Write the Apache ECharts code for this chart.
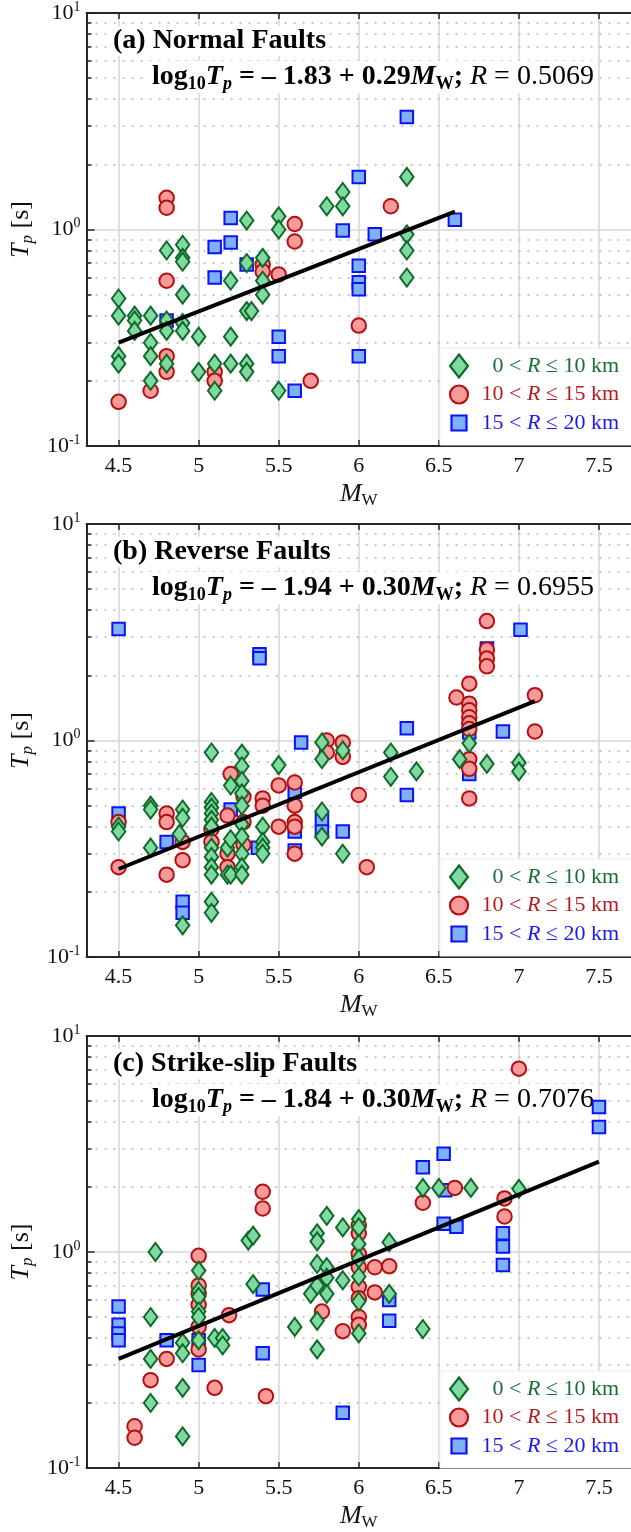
<!DOCTYPE html>
<html><head><meta charset="utf-8">
<script src="https://cdn.jsdelivr.net/npm/echarts@6/dist/echarts.min.js"></script>
<style>html,body{margin:0;padding:0;background:#fff}#c{width:631px;height:1532px}</style>
</head><body><div id="c"></div>
<script>
// ---------- data (Mw, Tp [s]) ----------
const xTicks = [4.5, 5, 5.5, 6, 6.5, 7, 7.5];
const yTicks = [0.1, 1, 10];
const yMinor = [0.2,0.3,0.4,0.5,0.6,0.7,0.8,0.9,2,3,4,5,6,7,8,9];
const titles = ['(a) Normal Faults', '(b) Reverse Faults', '(c) Strike-slip Faults'];
const eqIntercept = ['1.83', '1.94', '1.84'];
const eqSlope = ['0.29', '0.30', '0.30'];
const eqR = ['0.5069', '0.6955', '0.7076'];
const legendLow = ['0', '10', '15'];
const legendHigh = ['10', '15', '20'];

const normalNear = [[4.5,0.48],[4.5,0.40],[4.5,0.26],[4.5,0.24],[4.6,0.40],[4.6,0.38],[4.6,0.34],
 [4.7,0.40],[4.7,0.30],[4.7,0.26],[4.7,0.20],[4.8,0.80],[4.8,0.38],[4.8,0.34],[4.8,0.24],
 [4.9,0.85],[4.9,0.74],[4.9,0.71],[4.9,0.50],[4.9,0.37],[4.9,0.34],[5.0,0.32],[5.0,0.22],
 [5.1,0.24],[5.1,0.18],[5.2,0.58],[5.2,0.32],[5.2,0.24],[5.3,1.10],[5.3,0.70],[5.3,0.42],
 [5.33,0.42],[5.3,0.24],[5.3,0.22],[5.4,0.74],[5.4,0.58],[5.4,0.50],[5.5,1.15],[5.5,1.0],
 [5.5,0.18],[5.8,1.28],[5.9,1.49],[5.9,1.28],[6.3,1.75],[6.3,0.95],[6.3,0.80],[6.3,0.60]];
const normalMid = [[4.5,0.16],[4.7,0.18],[4.8,1.40],[4.8,1.26],[4.8,0.58],[4.8,0.26],[4.8,0.22],
 [5.1,0.22],[5.1,0.20],[5.4,0.69],[5.4,0.64],[5.5,0.62],[5.6,1.06],[5.6,0.88],[5.7,0.20],
 [6.0,0.36],[6.2,1.28]];
const normalFar = [[4.8,0.38],[5.1,0.83],[5.1,0.60],[5.2,1.13],[5.2,0.87],[5.3,0.69],[5.5,0.32],
 [5.5,0.26],[5.6,0.18],[5.9,0.99],[6.0,1.75],[6.0,0.68],[6.0,0.57],[6.0,0.53],[6.0,0.26],
 [6.1,0.95],[6.3,3.31],[6.6,1.11]];
const normalFit = [[4.5,0.30],[6.6,1.21]];

const reverseNear = [[4.5,0.40],[4.5,0.38],[4.7,0.50],[4.7,0.48],[4.7,0.32],[4.9,0.48],[4.9,0.44],
 [4.88,0.37],[4.9,0.14],[5.08,0.88],[5.08,0.52],[5.08,0.49],[5.08,0.46],[5.08,0.43],[5.08,0.40],
 [5.08,0.32],[5.08,0.29],[5.08,0.26],[5.08,0.24],[5.08,0.18],[5.08,0.16],[5.18,0.32],[5.18,0.24],
 [5.2,0.24],[5.2,0.35],[5.2,0.62],[5.27,0.87],[5.27,0.76],[5.27,0.65],[5.27,0.57],[5.27,0.50],
 [5.27,0.41],[5.27,0.36],[5.27,0.30],[5.27,0.26],[5.27,0.24],[5.4,0.40],[5.4,0.34],[5.4,0.32],
 [5.4,0.30],[5.5,0.77],[5.77,0.98],[5.77,0.82],[5.77,0.47],[5.77,0.36],[5.9,0.90],[5.9,0.30],
 [6.2,0.88],[6.2,0.68],[6.36,0.72],[6.63,0.82],[6.69,0.97],[6.8,0.78],[7.0,0.79],[7.0,0.72]];
const reverseMid = [[4.5,0.42],[4.5,0.26],[4.8,0.46],[4.8,0.42],[4.8,0.24],[4.9,0.34],[4.9,0.28],
 [5.08,0.39],[5.08,0.34],[5.18,0.45],[5.18,0.30],[5.18,0.26],[5.2,0.70],[5.28,0.55],[5.28,0.42],
 [5.28,0.33],[5.4,0.54],[5.4,0.50],[5.5,0.62],[5.5,0.40],[5.6,0.64],[5.6,0.50],[5.6,0.42],
 [5.6,0.40],[5.6,0.30],[5.8,1.0],[5.8,0.88],[5.9,0.98],[5.9,0.84],[6.0,0.56],[6.05,0.26],
 [6.61,1.58],[6.69,1.83],[6.69,1.48],[6.69,1.38],[6.69,1.28],[6.69,1.20],[6.69,1.13],[6.69,0.82],
 [6.69,0.74],[6.69,0.54],[6.8,3.56],[6.8,2.63],[6.8,2.39],[6.8,2.20],[7.1,1.62],[7.1,1.10]];
const reverseFar = [[4.5,3.27],[4.5,0.46],[4.8,0.34],[4.9,0.18],[4.9,0.16],[5.2,0.48],[5.37,0.32],
 [5.38,2.50],[5.38,2.40],[5.6,0.58],[5.6,0.38],[5.6,0.31],[5.64,0.98],[5.77,0.43],[5.77,0.38],
 [5.9,0.38],[6.3,1.14],[6.3,0.56],[6.69,1.09],[6.69,0.70],[6.8,2.66],[6.9,1.10],[7.01,3.25]];
const reverseFit = [[4.5,0.255],[7.1,1.52]];

const strikeNear = [[4.7,0.50],[4.7,0.32],[4.7,0.20],[4.73,1.0],[4.9,0.38],[4.9,0.34],[4.9,0.235],
 [4.9,0.14],[5.0,0.82],[5.0,0.66],[5.0,0.62],[5.0,0.53],[5.0,0.50],[5.0,0.39],[5.1,0.40],
 [5.15,0.40],[5.15,0.37],[5.31,1.13],[5.34,1.19],[5.34,0.71],[5.6,0.45],[5.7,0.64],[5.74,1.22],
 [5.74,1.12],[5.74,0.88],[5.74,0.70],[5.74,0.48],[5.74,0.354],[5.8,1.47],[5.8,0.85],[5.8,0.76],
 [5.8,0.64],[5.9,1.30],[5.9,0.74],[6.0,1.42],[6.0,1.30],[6.0,1.09],[6.0,0.93],[6.0,0.77],
 [6.0,0.59],[6.0,0.42],[6.19,1.11],[6.19,0.64],[6.4,1.98],[6.4,0.44],[6.5,1.98],[6.7,1.98],[7.0,1.96]];
const strikeMid = [[4.6,0.156],[4.6,0.138],[4.7,0.255],[4.8,0.32],[5.0,0.96],[5.0,0.70],[5.0,0.64],
 [5.0,0.57],[5.0,0.45],[5.0,0.354],[5.1,0.235],[5.19,0.51],[5.4,1.90],[5.4,1.59],[5.42,0.215],
 [5.77,0.53],[5.9,0.43],[6.0,1.33],[6.0,1.22],[6.0,0.98],[6.0,0.85],[6.0,0.69],[6.0,0.61],
 [6.0,0.50],[6.0,0.46],[6.1,0.85],[6.1,0.65],[6.19,0.86],[6.4,1.69],[6.6,1.98],[6.91,1.77],
 [6.91,1.46],[7.0,7.06]];
const strikeFar = [[4.5,0.56],[4.5,0.46],[4.5,0.42],[4.5,0.39],[4.8,0.39],[5.0,0.30],[5.0,0.39],
 [5.4,0.67],[5.4,0.34],[5.9,0.18],[6.19,0.60],[6.19,0.48],[6.4,2.47],[6.53,2.85],[6.53,1.35],
 [6.54,1.93],[6.61,1.31],[6.9,1.22],[6.9,1.06],[6.9,0.87],[7.5,4.69],[7.5,3.79]];
const strikeFit = [[4.5,0.32],[7.5,2.62]];

// ---------- layout / style ----------
const panels = [
  {near: normalNear, mid: normalMid, far: normalFar, fit: normalFit},
  {near: reverseNear, mid: reverseMid, far: reverseFar, fit: reverseFit},
  {near: strikeNear, mid: strikeMid, far: strikeFar, fit: strikeFit}
];
const FONT = '"Liberation Serif", "Times New Roman", serif';
const tops = [13, 524, 1036];
const H = 433, L = 86, W = 551;
const AX = '#262626';
const GREEN = {fill: '#80d9a0', stroke: '#0f6a2a', text: '#1b6f35'};
const RED = {fill: '#f89a9a', stroke: '#b40f0f', text: '#b81b1b'};
const BLUE = {fill: '#7fb0ff', stroke: '#0a14f0', text: '#1a1af0'};

const chart = echarts.init(document.getElementById('c'), null, {renderer: 'canvas'});
const grid = [], xAxis = [], yAxis = [], series = [], graphic = [];

const yLabelRich = {
  b: {fontFamily: FONT, fontSize: 22, color: '#111', lineHeight: 26},
  s: {fontFamily: FONT, fontSize: 14, color: '#111', lineHeight: 14, verticalAlign: 'top'}
};
const eqRich = {
  b: {fontFamily: FONT, fontSize: 28, fontWeight: 'bold', color: '#000', lineHeight: 32},
  bi: {fontFamily: FONT, fontSize: 28, fontWeight: 'bold', fontStyle: 'italic', color: '#000', lineHeight: 32},
  bs: {fontFamily: FONT, fontSize: 18, fontWeight: 'bold', color: '#000', lineHeight: 17, verticalAlign: 'bottom'},
  bis: {fontFamily: FONT, fontSize: 18, fontWeight: 'bold', fontStyle: 'italic', color: '#000', lineHeight: 17, verticalAlign: 'bottom'},
  r: {fontFamily: FONT, fontSize: 28, color: '#000', lineHeight: 32},
  ri: {fontFamily: FONT, fontSize: 28, fontStyle: 'italic', color: '#000', lineHeight: 32}
};

panels.forEach((p, k) => {
  const top = tops[k], bottom = top + H;
  grid.push({left: L, top: top, width: W, height: H, containLabel: false});
  xAxis.push({
    gridIndex: k, type: 'value', min: 4.3, max: 7.7, position: 'bottom',
    axisLine: {lineStyle: {color: AX, width: 2}},
    axisTick: {inside: true, length: 6, customValues: xTicks, lineStyle: {color: AX, width: 1.5}},
    axisLabel: {customValues: xTicks, fontFamily: FONT, fontSize: 22, color: '#111', margin: 9},
    splitLine: {show: false},
    name: '{i|M}{s|W}', nameLocation: 'middle', nameGap: 33,
    nameTextStyle: {rich: {
      i: {fontFamily: FONT, fontSize: 26, fontStyle: 'italic', color: '#111', lineHeight: 30},
      s: {fontFamily: FONT, fontSize: 17, color: '#111', lineHeight: 16, verticalAlign: 'bottom'}
    }}
  });
  xAxis.push({
    gridIndex: k, type: 'value', min: 4.3, max: 7.7, position: 'top',
    axisLine: {lineStyle: {color: AX, width: 2}},
    axisTick: {inside: true, length: 6, customValues: xTicks, lineStyle: {color: AX, width: 1.5}},
    axisLabel: {show: false}, splitLine: {show: false}
  });
  yAxis.push({
    gridIndex: k, type: 'log', logBase: 10, min: 0.1, max: 10, position: 'left',
    axisLine: {show: true, lineStyle: {color: AX, width: 2}},
    axisTick: {inside: true, length: 8, customValues: yTicks, lineStyle: {color: AX, width: 1.5}},
    axisLabel: {customValues: yTicks, margin: 6, rich: yLabelRich,
      formatter: v => '{b|10}{s|' + Math.round(Math.log10(v)) + '}'},
    splitLine: {show: false},
    name: '{i|T}{si|p}{r| [s]}', nameLocation: 'middle', nameGap: 35, nameRotate: 90,
    nameTextStyle: {rich: {
      i: {fontFamily: FONT, fontSize: 26, fontStyle: 'italic', color: '#111', lineHeight: 30},
      si: {fontFamily: FONT, fontSize: 17, fontStyle: 'italic', color: '#111', lineHeight: 16, verticalAlign: 'bottom'},
      r: {fontFamily: FONT, fontSize: 26, color: '#111', lineHeight: 30}
    }}
  });
  yAxis.push({
    gridIndex: k, type: 'log', logBase: 10, min: 0.1, max: 10, position: 'left',
    axisLine: {show: false},
    axisTick: {inside: true, length: 5, customValues: yMinor, lineStyle: {color: AX, width: 1.5}},
    axisLabel: {show: false}, splitLine: {show: false}
  });
  const xi = 2 * k, yi = 2 * k;
  // gridlines via markLine on a helper series
  const ml = [];
  xTicks.forEach(v => ml.push({xAxis: v, lineStyle: {color: '#d6d6d6', width: 1.5, type: 'solid'}}));
  ml.push({yAxis: 1, lineStyle: {color: '#d6d6d6', width: 1.5, type: 'solid'}});
  yMinor.forEach(v => ml.push({yAxis: v, lineStyle: {color: '#b5b5b5', width: 1.5, type: [2, 7]}}));
  series.push({
    type: 'scatter', xAxisIndex: xi, yAxisIndex: yi, data: [], silent: true,
    markLine: {z: 0, silent: true, symbol: ['none', 'none'], label: {show: false}, animation: false, data: ml}
  });
  const sc = (data, sym, size, c) => ({
    type: 'scatter', xAxisIndex: xi, yAxisIndex: yi, data: data, symbol: sym, symbolSize: size, z: 3,
    itemStyle: {color: c.fill, borderColor: c.stroke, borderWidth: 2, opacity: 1}
  });
  series.push(sc(p.far, 'rect', 12.5, BLUE));
  series.push(sc(p.mid, 'circle', 14.5, RED));
  series.push(sc(p.near, 'diamond', [13.5, 18], GREEN));
  series.push({type: 'line', xAxisIndex: xi, yAxisIndex: yi, data: p.fit, symbol: 'none', z: 5,
    lineStyle: {color: '#000', width: 4}});

  // title & equation
  graphic.push({type: 'text', x: 110, y: top + 28, z: 1,
    style: {text: titles[k], fontFamily: FONT, fontSize: 28, fontWeight: 'bold', fill: '#000',
      verticalAlign: 'middle', align: 'left', backgroundColor: '#fff', padding: [1, 3]}});
  graphic.push({type: 'text', x: 149, y: top + 64, z: 1,
    style: {text: '{b|log}{bs|10}{bi|T}{bis|p}{b| = – ' + eqIntercept[k] + ' + ' + eqSlope[k] + '}{bi|M}{bs|W}{b|; }{ri|R}{r| = ' + eqR[k] + '}',
      rich: eqRich, verticalAlign: 'middle', align: 'left', backgroundColor: '#fff', padding: [0, 3]}});

  // legend box
  graphic.push({type: 'rect', z: 8, shape: {x: 440, y: bottom - 98, width: 200, height: 97},
    style: {fill: '#fff', stroke: '#ececec', lineWidth: 1}});
  const cols = [GREEN, RED, BLUE];
  const ys = [bottom - 80, bottom - 51.5, bottom - 23];
  const mx = 459;
  graphic.push({type: 'polygon', z: 9, shape: {points: [[mx, ys[0] - 11.5], [mx + 9, ys[0]], [mx, ys[0] + 11.5], [mx - 9, ys[0]]]},
    style: {fill: GREEN.fill, stroke: GREEN.stroke, lineWidth: 2.2}});
  graphic.push({type: 'circle', z: 9, shape: {cx: mx, cy: ys[1], r: 9},
    style: {fill: RED.fill, stroke: RED.stroke, lineWidth: 2.2}});
  graphic.push({type: 'rect', z: 9, shape: {x: mx - 7.5, y: ys[2] - 7.5, width: 15, height: 15},
    style: {fill: BLUE.fill, stroke: BLUE.stroke, lineWidth: 2.2}});
  for (let j = 0; j < 3; j++) {
    graphic.push({type: 'text', z: 9, x: 619, y: ys[j],
      style: {text: '{n|' + legendLow[j] + ' < }{i|R}{n| ≤ ' + legendHigh[j] + ' km}',
        align: 'right', verticalAlign: 'middle',
        rich: {n: {fontFamily: FONT, fontSize: 22, fill: cols[j].text, color: cols[j].text},
               i: {fontFamily: FONT, fontSize: 22, fontStyle: 'italic', fill: cols[j].text, color: cols[j].text}}}});
  }
});

chart.setOption({animation: false, backgroundColor: '#fff', grid, xAxis, yAxis, series, graphic});
</script></body></html>
